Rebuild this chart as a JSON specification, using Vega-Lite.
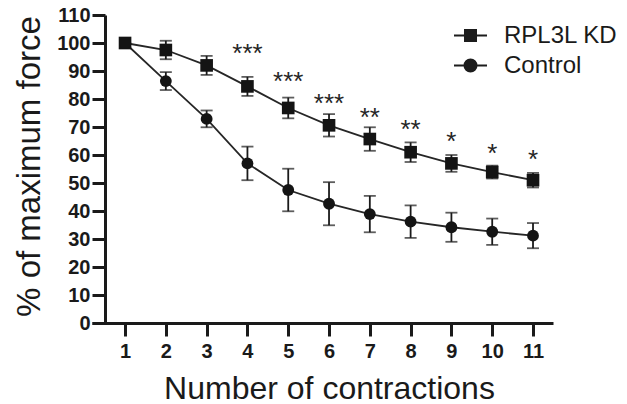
{
  "$schema": "https://vega.github.io/schema/vega-lite/v6.json",
  "width": 461,
  "height": 308,
  "autosize": {"type": "none"},
  "padding": {"left": 92, "top": 15, "right": 74, "bottom": 81},
  "background": "white",
  "config": {
    "view": {"stroke": null},
    "font": "Liberation Sans"
  },
  "data": {
    "values": [
      {"group": "RPL3L KD", "n": 1, "mean": 100, "sem": 0, "sig": "", "sig_y": null},
      {"group": "RPL3L KD", "n": 2, "mean": 97.5, "sem": 3.3, "sig": "", "sig_y": null},
      {"group": "RPL3L KD", "n": 3, "mean": 92, "sem": 3.4, "sig": "", "sig_y": null},
      {"group": "RPL3L KD", "n": 4, "mean": 84.5, "sem": 3.4, "sig": "***", "sig_y": 98.6},
      {"group": "RPL3L KD", "n": 5, "mean": 76.8, "sem": 3.7, "sig": "***", "sig_y": 88.6},
      {"group": "RPL3L KD", "n": 6, "mean": 70.6, "sem": 4.0, "sig": "***", "sig_y": 80.8},
      {"group": "RPL3L KD", "n": 7, "mean": 65.7, "sem": 4.2, "sig": "**", "sig_y": 75.8},
      {"group": "RPL3L KD", "n": 8, "mean": 61, "sem": 3.5, "sig": "**", "sig_y": 71.5},
      {"group": "RPL3L KD", "n": 9, "mean": 57, "sem": 3.0, "sig": "*", "sig_y": 67.1},
      {"group": "RPL3L KD", "n": 10, "mean": 53.9, "sem": 2.3, "sig": "*", "sig_y": 63},
      {"group": "RPL3L KD", "n": 11, "mean": 51, "sem": 2.6, "sig": "*", "sig_y": 60.8},
      {"group": "Control", "n": 1, "mean": 100, "sem": 0, "sig": "", "sig_y": null},
      {"group": "Control", "n": 2, "mean": 86.4, "sem": 3.2, "sig": "", "sig_y": null},
      {"group": "Control", "n": 3, "mean": 72.9, "sem": 3.0, "sig": "", "sig_y": null},
      {"group": "Control", "n": 4, "mean": 57, "sem": 6.0, "sig": "", "sig_y": null},
      {"group": "Control", "n": 5, "mean": 47.5, "sem": 7.6, "sig": "", "sig_y": null},
      {"group": "Control", "n": 6, "mean": 42.6, "sem": 7.7, "sig": "", "sig_y": null},
      {"group": "Control", "n": 7, "mean": 38.9, "sem": 6.5, "sig": "", "sig_y": null},
      {"group": "Control", "n": 8, "mean": 36.2, "sem": 5.8, "sig": "", "sig_y": null},
      {"group": "Control", "n": 9, "mean": 34.2, "sem": 5.2, "sig": "", "sig_y": null},
      {"group": "Control", "n": 10, "mean": 32.6, "sem": 4.7, "sig": "", "sig_y": null},
      {"group": "Control", "n": 11, "mean": 31.2, "sem": 4.5, "sig": "", "sig_y": null}
    ]
  },
  "encoding": {
    "x": {
      "field": "n", "type": "quantitative",
      "scale": {"domain": [0.19, 11.49], "nice": false, "zero": false},
      "axis": {
        "values": [1,2,3,4,5,6,7,8,9,10,11],
        "title": "Number of contractions",
        "grid": false,
        "domainColor": "#1a1a1a", "domainWidth": 3,
        "tickColor": "#1a1a1a", "tickWidth": 3, "tickSize": 13,
        "labelFont": "Liberation Sans", "labelFontWeight": "bold", "labelFontSize": 20,
        "labelColor": "#1a1a1a", "labelPadding": 5, "labelFlush": false,
        "titleFont": "Liberation Sans", "titleFontWeight": "normal", "titleFontSize": 32,
        "titleColor": "#1a1a1a", "titleX": 237, "titleY": 75, "titleBaseline": "alphabetic", "titleAlign": "center"
      }
    },
    "y": {
      "field": "mean", "type": "quantitative",
      "scale": {"domain": [0, 110], "nice": false},
      "axis": {
        "values": [0,10,20,30,40,50,60,70,80,90,100,110],
        "title": "% of maximum force",
        "grid": false,
        "offset": -13,
        "domainColor": "#1a1a1a", "domainWidth": 3,
        "tickColor": "#1a1a1a", "tickWidth": 3, "tickSize": 13,
        "labelFont": "Liberation Sans", "labelFontWeight": "bold", "labelFontSize": 20,
        "labelColor": "#1a1a1a", "labelPadding": 2,
        "titleFont": "Liberation Sans", "titleFontWeight": "normal", "titleFontSize": 33,
        "titleColor": "#1a1a1a", "titleAngle": -90, "titleX": -66, "titleY": 151,
        "titleBaseline": "alphabetic", "titleAlign": "center"
      }
    }
  },
  "layer": [
    {
      "mark": {"type": "errorbar", "ticks": true, "size": 12, "thickness": 1.8, "color": "#1a1a1a"},
      "encoding": {"yError": {"field": "sem"}}
    },
    {
      "mark": {"type": "line", "color": "#262626", "strokeWidth": 1.8},
      "encoding": {"detail": {"field": "group"}}
    },
    {
      "transform": [{"filter": "datum.group === 'RPL3L KD'"}],
      "mark": {"type": "point", "shape": "square", "filled": true, "size": 160, "color": "#141414", "opacity": 1}
    },
    {
      "transform": [{"filter": "datum.group === 'Control'"}],
      "mark": {"type": "point", "shape": "circle", "filled": true, "size": 140, "color": "#141414", "opacity": 1}
    },
    {
      "mark": {"type": "point", "filled": false, "opacity": 0, "color": "#1c1c1c", "strokeWidth": 1.8},
      "encoding": {
        "shape": {
          "field": "group", "type": "nominal",
          "scale": {
            "domain": ["RPL3L KD", "Control"],
            "range": [
              "M-1,0H1M-0.34,-0.34H0.34V0.34H-0.34ZM-0.34,-0.3H0.34M-0.34,-0.2H0.34M-0.34,-0.1H0.34M-0.34,0.1H0.34M-0.34,0.2H0.34M-0.34,0.3H0.34",
              "M-1,0H1M0.37,0A0.37,0.37,0,1,1,-0.37,0A0.37,0.37,0,1,1,0.37,0ZM-0.356,-0.1H0.356M-0.356,0.1H0.356M-0.311,-0.2H0.311M-0.311,0.2H0.311M-0.217,-0.3H0.217M-0.217,0.3H0.217"
            ]
          },
          "legend": {
            "title": null,
            "orient": "none",
            "legendX": 361,
            "legendY": 3,
            "padding": 0,
            "symbolSize": 1089,
            "symbolStrokeWidth": 1.8,
            "symbolStrokeColor": "#1c1c1c",
            "labelFont": "Liberation Sans",
            "labelFontSize": 24,
            "labelColor": "#1a1a1a",
            "labelOffset": 16,
            "rowPadding": -4,
            "encode": {
              "symbols": {
                "update": {
                  "stroke": {"value": "#1c1c1c"},
                  "strokeWidth": {"value": 1.8},
                  "opacity": {"value": 1}
                }
              }
            }
          }
        }
      }
    },
    {
      "transform": [{"filter": "datum.sig !== ''"}],
      "mark": {"type": "text", "font": "Liberation Sans", "fontSize": 26, "color": "#262626", "align": "center", "baseline": "alphabetic", "dy": 15},
      "encoding": {
        "y": {"field": "sig_y", "type": "quantitative"},
        "text": {"field": "sig"}
      }
    }
  ]
}
